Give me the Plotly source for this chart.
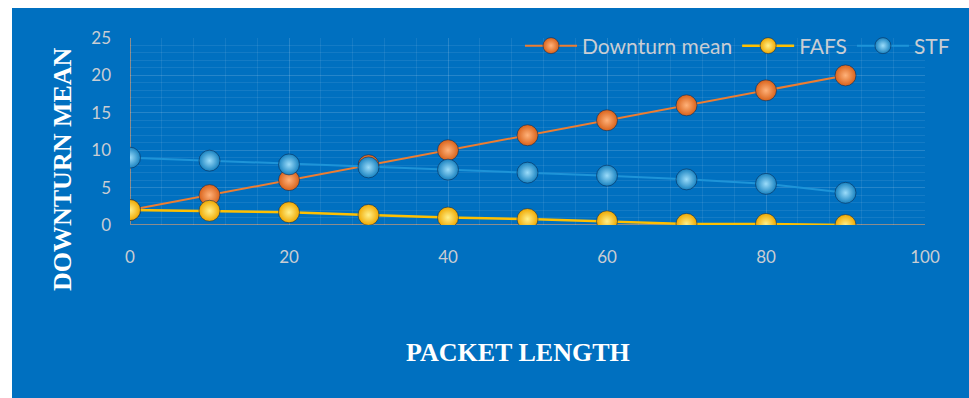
import plotly.graph_objects as go

# Packet length samples and the three measured series
packet_length = [0, 10, 20, 30, 40, 50, 60, 70, 80, 90]
downturn_mean = [2, 4, 6, 8, 10, 12, 14, 16, 18, 20]
fafs = [2.0, 1.9, 1.7, 1.35, 1.0, 0.8, 0.5, 0.15, 0.15, 0.0]
stf = [9.0, 8.6, 8.1, 7.7, 7.4, 7.0, 6.6, 6.1, 5.5, 4.3]

x_ticks = [0, 20, 40, 60, 80, 100]
y_ticks = [0, 5, 10, 15, 20, 25]

W, H = 969, 398
ML, MR, MT, MB = 130, 44, 38, 173
PW, PH = W - ML - MR, H - MT - MB


def px_x(p):
    return (p - ML) / PW


def px_y(p):
    return 1 - (p - MT) / PH


BG = "#0070C0"
TICK = "#C9CDD3"

# name, values, line colour, sphere highlight, sphere rim, line width
series = [
    ("Downturn mean", downturn_mean, "#ED7D31", "#FFB27A", "#D9621A", 2),
    ("FAFS", fafs, "#FFC000", "#FFF08A", "#F0A800", 2.5),
    ("STF", stf, "#1E94D8", "#9BDCFA", "#1882C0", 2),
]

fig = go.Figure()
for name, vals, col, light, rim, lw in series:
    fig.add_trace(go.Scatter(
        x=packet_length, y=vals, name=name, mode="lines+markers",
        line=dict(color=col, width=lw),
        marker=dict(size=21, color=rim,
                    gradient=dict(type="radial", color=light),
                    line=dict(color="rgba(10,40,80,0.55)", width=1)),
    ))

# blue chart panel
fig.add_shape(type="rect", xref="paper", yref="paper", layer="below",
              x0=px_x(12), x1=px_x(W), y0=px_y(H), y1=px_y(8),
              fillcolor=BG, line=dict(width=0))

title_font = dict(family="Liberation Serif, serif", size=26, color="white", weight="bold")
fig.add_annotation(text="DOWNTURN MEAN", xref="paper", yref="paper",
                   x=px_x(62), y=px_y(169), textangle=-90, showarrow=False,
                   xanchor="center", yanchor="middle", font=title_font)
fig.add_annotation(text="PACKET LENGTH", xref="paper", yref="paper",
                   x=px_x(518), y=px_y(352), showarrow=False,
                   xanchor="center", yanchor="middle", font=title_font)

grid = "rgba(255,255,255,0.08)"
fig.update_layout(
    width=W, height=H,
    margin=dict(l=ML, r=MR, t=MT, b=MB),
    paper_bgcolor="white", plot_bgcolor="rgba(0,0,0,0)",
    font=dict(family="Lato, Open Sans, sans-serif", color=TICK, size=17),
    showlegend=True,
    legend=dict(orientation="h", x=px_x(955), xanchor="right", y=px_y(46), yanchor="middle",
                bgcolor="rgba(0,0,0,0)", font=dict(size=21, color=TICK),
                itemwidth=52, itemsizing="trace", traceorder="normal"),
    xaxis=dict(range=[0, 100], tickvals=x_ticks, ticks="", ticklabelstandoff=20,
               showline=False, zeroline=False,
               showgrid=True, gridcolor=grid, gridwidth=1,
               minor=dict(dtick=4, showgrid=True, gridcolor=grid)),
    yaxis=dict(range=[0, 25], tickvals=y_ticks, ticks="", ticklabelstandoff=18,
               showline=False, zeroline=False,
               showgrid=True, gridcolor=grid, gridwidth=1,
               minor=dict(dtick=1, showgrid=True, gridcolor=grid)),
)

# grey axis lines at the origin
fig.add_shape(type="line", xref="paper", yref="y", x0=0, x1=1, y0=0, y1=0,
              line=dict(color="#8C8C8C", width=2), layer="below")
fig.add_shape(type="line", xref="x", yref="paper", x0=0, x1=0, y0=0, y1=1,
              line=dict(color="#8C8C8C", width=2), layer="below")

fig.write_html("out.html")
